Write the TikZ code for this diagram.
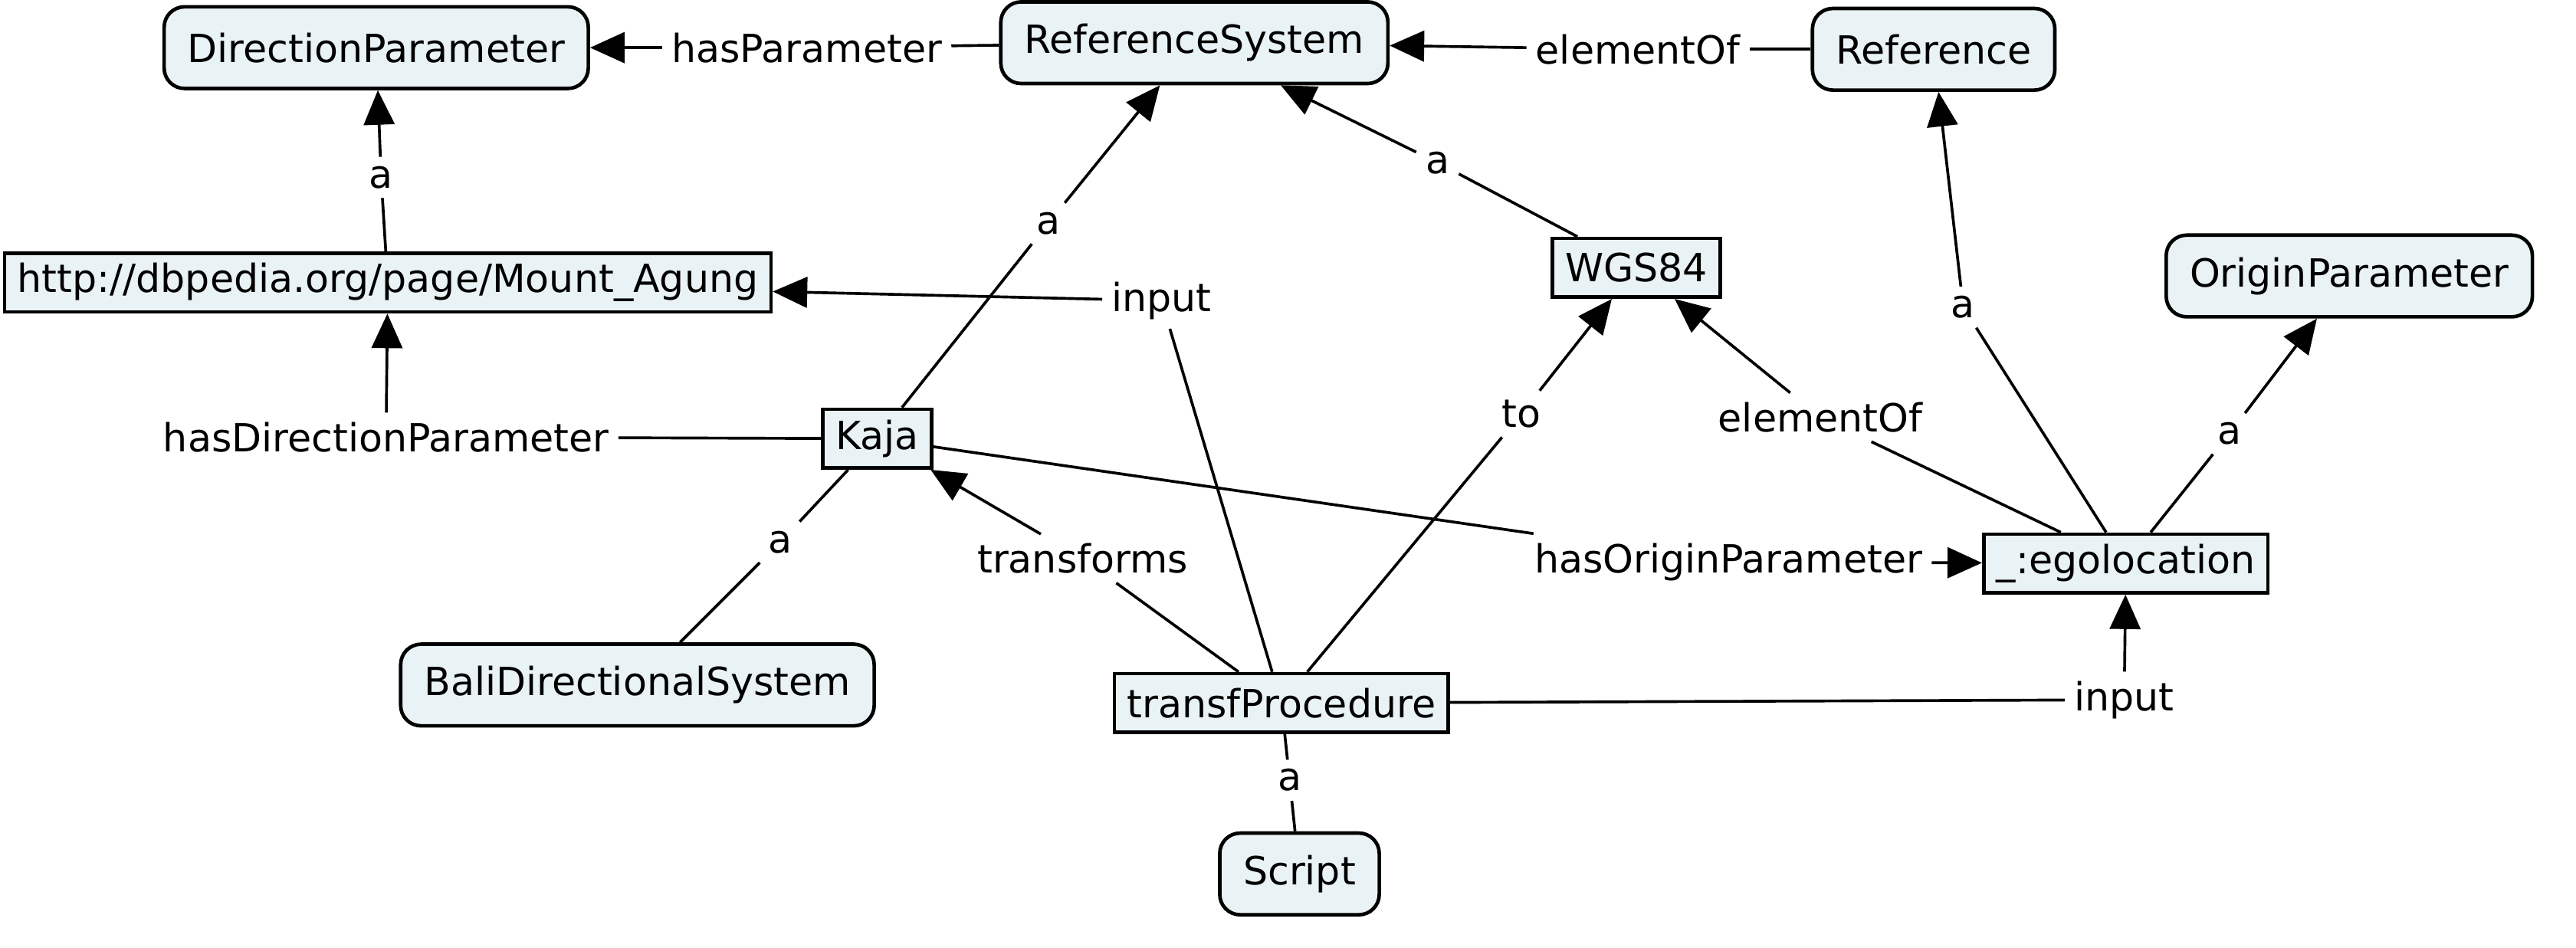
\documentclass[tikz,border=0pt]{standalone}
\usepackage{fontspec}
\setmainfont{DejaVu Sans}
\usetikzlibrary{arrows.meta}
\definecolor{nodefill}{RGB}{233,242,244}
\begin{document}
\begin{tikzpicture}[x=0.6435pt,y=-0.6435pt,
  every node/.style={font=\fontsize{15.2pt}{18pt}\selectfont},
  cls/.style={draw, line width=1.4pt, fill=nodefill, rounded corners=8pt, inner xsep=9.2pt, inner ysep=0pt, minimum height=32pt},
  ind/.style={draw, line width=1.4pt, fill=nodefill, inner xsep=5pt, inner ysep=0pt, minimum height=23pt},
  lbl/.style={inner sep=3.5pt},
  edge/.style={line width=1.1pt},
  arr/.style={edge, -{Triangle[length=13.5pt,width=12pt]}}]
\useasboundingbox (0,0) rectangle (1568,577);
% main nodes
\node[cls] (dp) at (229,29) {DirectionParameter};
\node[cls] (rs) at (727,26) {ReferenceSystem};
\node[cls] (ref) at (1177,30) {Reference};
\node[ind] (ma) at (236,172) {http://dbpedia.org/page/Mount\_Agung};
\node[ind] (wgs) at (996,163) {WGS84};
\node[cls] (op) at (1430,168) {OriginParameter};
\node[ind] (kaja) at (534,267) {Kaja};
\node[ind] (ego) at (1294,343) {\_:egolocation};
\node[cls] (bali) at (388,417) {BaliDirectionalSystem};
\node[ind] (tp) at (780,428) {transfProcedure};
\node[cls] (script) at (791,532) {Script};
% edge labels
\node[lbl] (lhp) at (491,29) {hasParameter};
\node[lbl] (leo1) at (997,30) {elementOf};
\node[lbl] (lamd) at (232,108) {a};
\node[lbl] (lakr) at (638,136) {a};
\node[lbl] (lawr) at (875,99) {a};
\node[lbl] (laer) at (1195,187) {a};
\node[lbl] (laeo) at (1357,264) {a};
\node[lbl] (lin1) at (707,183) {input};
\node[lbl] (lhdp) at (235,266) {hasDirectionParameter};
\node[lbl] (lto) at (926,252) {to};
\node[lbl] (leo2) at (1108,254) {elementOf};
\node[lbl] (ltr) at (659,340) {transforms};
\node[lbl] (lhop) at (1052,342) {hasOriginParameter};
\node[lbl] (lin2) at (1293,426) {input};
\node[lbl] (lakb) at (475,330) {a};
\node[lbl] (lats) at (785,475) {a};
% connectors
\draw[edge] (rs) -- (lhp);  \draw[arr] (lhp) -- (dp);
\draw[edge] (ref) -- (leo1); \draw[arr] (leo1) -- (rs);
\draw[edge] (ma) -- (lamd); \draw[arr] (lamd) -- (dp);
\draw[edge] (kaja) -- (lakr); \draw[arr] (lakr) -- (rs);
\draw[edge] (wgs) -- (lawr); \draw[arr] (lawr) -- (rs);
\draw[edge] (ego) -- (laer); \draw[arr] (laer) -- (ref);
\draw[edge] (ego) -- (laeo); \draw[arr] (laeo) -- (op);
\draw[edge] (tp) -- (lin1); \draw[arr] (lin1) -- (ma);
\draw[edge] (kaja) -- (lhdp); \draw[arr] (lhdp) -- (ma);
\draw[edge] (tp) -- (lto); \draw[arr] (lto) -- (wgs);
\draw[edge] (ego) -- (leo2); \draw[arr] (leo2) -- (wgs);
\draw[edge] (tp) -- (ltr); \draw[arr] (ltr) -- (kaja);
\draw[edge] (kaja) -- (lhop); \draw[arr] (lhop) -- (ego);
\draw[edge] (tp) -- (lin2); \draw[arr] (lin2) -- (ego);
\draw[edge] (kaja) -- (lakb); \draw[edge] (lakb) -- (bali);
\draw[edge] (tp) -- (lats); \draw[edge] (lats) -- (script);
\end{tikzpicture}
\end{document}
